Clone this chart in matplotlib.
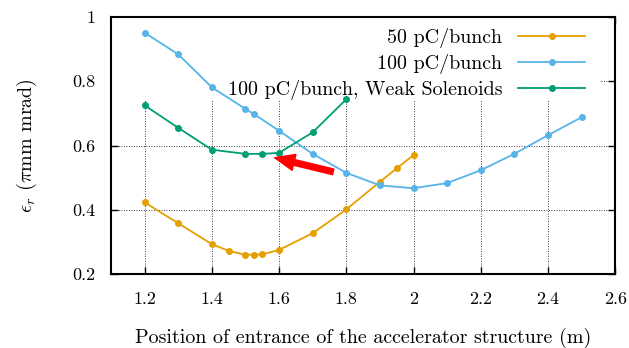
import matplotlib
matplotlib.use("Agg")
import matplotlib.pyplot as plt
from matplotlib.patches import Rectangle

plt.rcParams['font.family'] = 'cmr10'
plt.rcParams['mathtext.fontset'] = 'cm'
plt.rcParams['axes.formatter.use_mathtext'] = True
plt.rcParams['font.size'] = 14.4

# emittance vs. position of the accelerator structure entrance
x50 = [1.2, 1.3, 1.4, 1.45, 1.5, 1.525, 1.55, 1.6, 1.7, 1.8, 1.9, 1.95, 2.0]
y50 = [0.423, 0.358, 0.293, 0.272, 0.260, 0.260, 0.261, 0.275, 0.327, 0.401, 0.487, 0.529, 0.570]

x100 = [1.2, 1.3, 1.4, 1.5, 1.525, 1.6, 1.7, 1.8, 1.9, 2.0, 2.1, 2.2, 2.3, 2.4, 2.5]
y100 = [0.951, 0.884, 0.781, 0.714, 0.698, 0.646, 0.574, 0.515, 0.476, 0.467, 0.483, 0.523, 0.574, 0.632, 0.688]

xweak = [1.2, 1.3, 1.4, 1.5, 1.55, 1.6, 1.7, 1.8]
yweak = [0.725, 0.655, 0.587, 0.574, 0.574, 0.577, 0.641, 0.744]

labels = ["50 pC/bunch", "100 pC/bunch", "100 pC/bunch, Weak Solenoids"]
colors = ["#E69F00", "#56B4E9", "#009E73"]

xticks = [1.2, 1.4, 1.6, 1.8, 2.0, 2.2, 2.4, 2.6]
xticklabels = ["1.2", "1.4", "1.6", "1.8", "2", "2.2", "2.4", "2.6"]
yticks = [0.2, 0.4, 0.6, 0.8, 1.0]
yticklabels = ["0.2", "0.4", "0.6", "0.8", "1"]

arrow_tail = (1.761, 0.518)
arrow_tip = (1.587, 0.562)

fig = plt.figure(figsize=(6.29, 3.48), dpi=100)
ax = fig.add_axes([0.1765, 0.2126, 0.8015, 0.7385])

ax.grid(True, linestyle=(0, (1, 2)), color='black', linewidth=0.6, zorder=0)
ax.set_axisbelow(True)
# white key area hides the grid at the top
ax.add_patch(Rectangle((0, 0.6775), 0.97, 0.3225, transform=ax.transAxes,
                       facecolor='white', edgecolor='none', zorder=1))

for xs, ys, lab, c in zip([x50, x100, xweak], [y50, y100, yweak], labels, colors):
    ax.plot(xs, ys, '-o', color=c, lw=1.3, ms=4, label=lab, zorder=3)

ax.annotate('', xy=arrow_tip, xytext=arrow_tail,
            arrowprops=dict(arrowstyle='simple,head_length=1.1,head_width=0.9,tail_width=0.32',
                            color='red', mutation_scale=13, shrinkA=0, shrinkB=0),
            zorder=4)

ax.set_xlim(1.1, 2.6)
ax.set_ylim(0.2, 1.0)
ax.set_xticks(xticks)
ax.set_xticklabels(xticklabels)
ax.set_yticks(yticks)
ax.set_yticklabels(yticklabels)
ax.tick_params(direction='in', top=True, right=True, length=5, width=1, labelsize=13)
ax.tick_params(axis='x', pad=13)
ax.tick_params(axis='y', pad=11)
for s in ax.spines.values():
    s.set_linewidth(1.5)

ax.set_xlabel('Position of entrance of the accelerator structure (m)', labelpad=15)
ax.set_ylabel(r'$\epsilon_r$ ($\pi$mm mrad)', labelpad=24)

ax.legend(loc='upper right', bbox_to_anchor=(0.9406, 0.959), markerfirst=False, frameon=False,
          handlelength=3.35, handletextpad=0.8, labelspacing=0.3, borderaxespad=0, borderpad=0)

fig.savefig('out.png', dpi=100)
